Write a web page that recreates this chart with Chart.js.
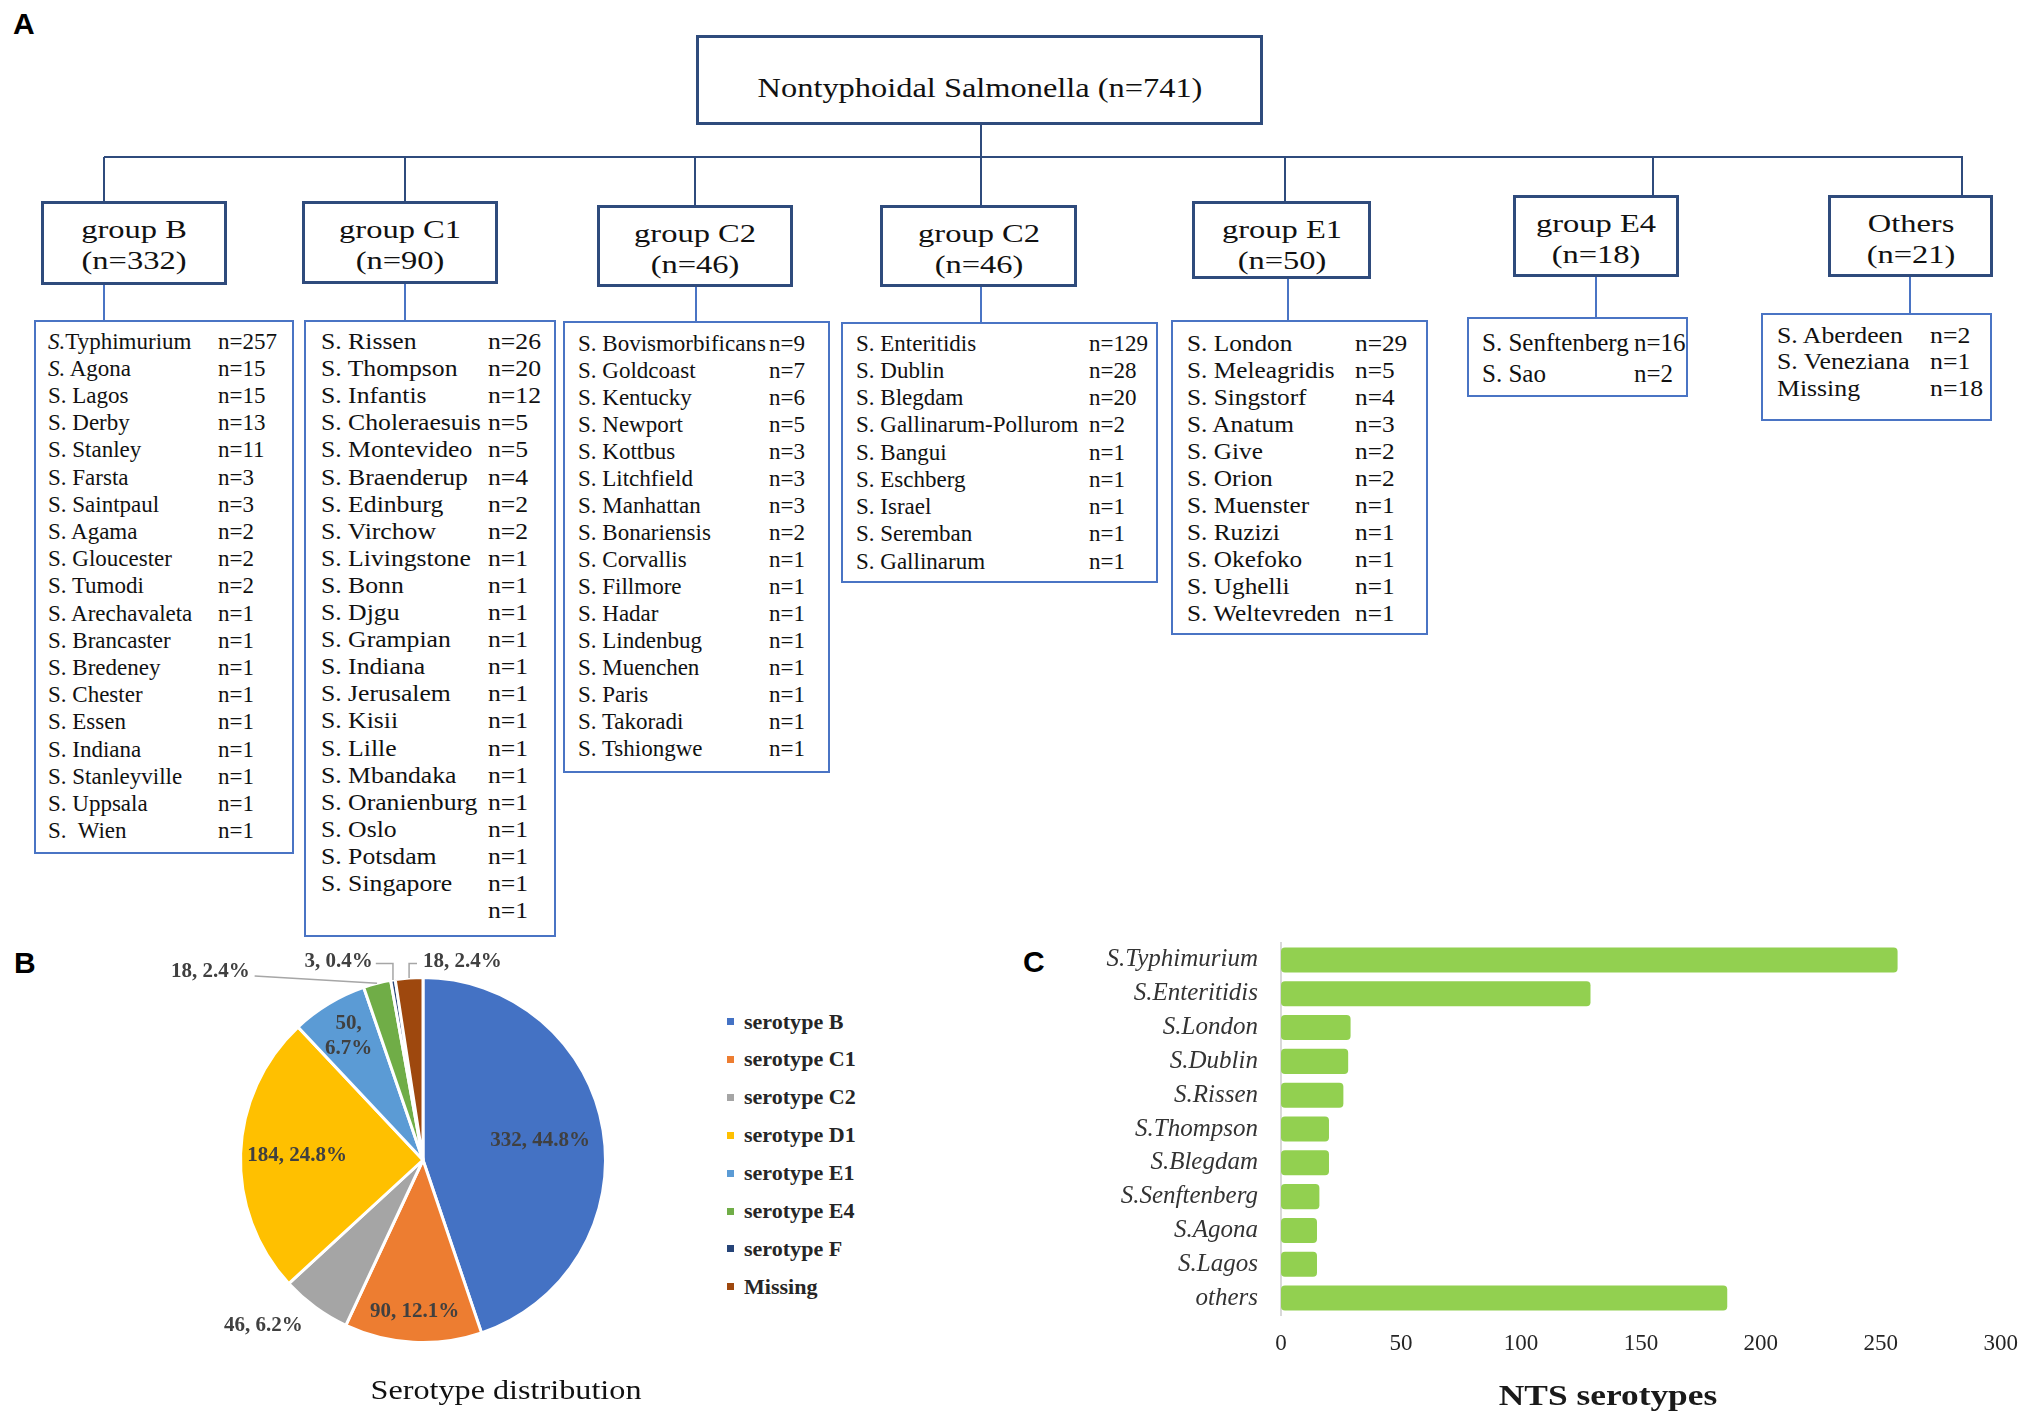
<!DOCTYPE html>
<html>
<head>
<meta charset="utf-8">
<script src="https://cdn.jsdelivr.net/npm/chart.js@4.4.1/dist/chart.umd.min.js"></script>
<style>
  html, body { margin: 0; padding: 0; background: #fff; }
  #page { position: relative; width: 2033px; height: 1417px; overflow: hidden;
          font-family: "Liberation Serif", "Times New Roman", serif; color: #111; }
  .t { position: absolute; white-space: pre; line-height: 1; }
  .box { position: absolute; box-sizing: border-box; background: #fff; }
  .ln { position: absolute; }
  .panel { position: absolute; font-family: "Liberation Sans", Arial, sans-serif;
           font-weight: bold; font-size: 30px; line-height: 1; color: #000; }
</style>
</head>
<body>
<div id="page">
  <div class="panel" style="left:13px;top:9px">A</div>
  <div class="panel" style="left:14px;top:948px">B</div>
  <div class="panel" style="left:1023px;top:947px">C</div>
  <div id="pieWrap" style="position:absolute;left:123px;top:940px;width:600px;height:440px"><canvas id="pie"></canvas></div>
  <div id="barWrap" style="position:absolute;left:1000px;top:920px;width:1033px;height:497px"><canvas id="bar"></canvas></div>
</div>
<script>
// ---- data ----
const rootLabel = 'Nontyphoidal Salmonella';
const rootCount = 741;

const groupNames = ['group B', 'group C1', 'group C2', 'group C2', 'group E1', 'group E4', 'Others'];
const groupCounts = [332, 90, 46, 46, 50, 18, 21];

const groupBNames = ['S.Typhimurium', 'S. Agona', 'S. Lagos', 'S. Derby', 'S. Stanley', 'S. Farsta', 'S. Saintpaul',
  'S. Agama', 'S. Gloucester', 'S. Tumodi', 'S. Arechavaleta', 'S. Brancaster', 'S. Bredeney', 'S. Chester',
  'S. Essen', 'S. Indiana', 'S. Stanleyville', 'S. Uppsala', 'S.  Wien'];
const groupBCounts = [257, 15, 15, 13, 11, 3, 3, 2, 2, 2, 1, 1, 1, 1, 1, 1, 1, 1, 1];

const groupC1Names = ['S. Rissen', 'S. Thompson', 'S. Infantis', 'S. Choleraesuis', 'S. Montevideo', 'S. Braenderup',
  'S. Edinburg', 'S. Virchow', 'S. Livingstone', 'S. Bonn', 'S. Djgu', 'S. Grampian', 'S. Indiana', 'S. Jerusalem',
  'S. Kisii', 'S. Lille', 'S. Mbandaka', 'S. Oranienburg', 'S. Oslo', 'S. Potsdam', 'S. Singapore', ''];
const groupC1Counts = [26, 20, 12, 5, 5, 4, 2, 2, 1, 1, 1, 1, 1, 1, 1, 1, 1, 1, 1, 1, 1, 1];

const groupC2Names = ['S. Bovismorbificans', 'S. Goldcoast', 'S. Kentucky', 'S. Newport', 'S. Kottbus', 'S. Litchfield',
  'S. Manhattan', 'S. Bonariensis', 'S. Corvallis', 'S. Fillmore', 'S. Hadar', 'S. Lindenbug', 'S. Muenchen',
  'S. Paris', 'S. Takoradi', 'S. Tshiongwe'];
const groupC2Counts = [9, 7, 6, 5, 3, 3, 3, 2, 1, 1, 1, 1, 1, 1, 1, 1];

const groupD1Names = ['S. Enteritidis', 'S. Dublin', 'S. Blegdam', 'S. Gallinarum-Pollurom', 'S. Bangui', 'S. Eschberg',
  'S. Israel', 'S. Seremban', 'S. Gallinarum'];
const groupD1Counts = [129, 28, 20, 2, 1, 1, 1, 1, 1];

const groupE1Names = ['S. London', 'S. Meleagridis', 'S. Singstorf', 'S. Anatum', 'S. Give', 'S. Orion', 'S. Muenster',
  'S. Ruzizi', 'S. Okefoko', 'S. Ughelli', 'S. Weltevreden'];
const groupE1Counts = [29, 5, 4, 3, 2, 2, 1, 1, 1, 1, 1];

const groupE4Names = ['S. Senftenberg', 'S. Sao'];
const groupE4Counts = [16, 2];

const othersNames = ['S. Aberdeen', 'S. Veneziana', 'Missing'];
const othersCounts = [2, 1, 18];

const serotypeNames = ['serotype B', 'serotype C1', 'serotype C2', 'serotype D1', 'serotype E1', 'serotype E4', 'serotype F', 'Missing'];
const serotypeCounts = [332, 90, 46, 184, 50, 18, 3, 18];
const serotypeColors = ['#4472C4', '#ED7D31', '#A5A5A5', '#FFC000', '#5B9BD5', '#70AD47', '#264478', '#9E480E'];

const topSerotypes = ['S.Typhimurium', 'S.Enteritidis', 'S.London', 'S.Dublin', 'S.Rissen', 'S.Thompson',
  'S.Blegdam', 'S.Senftenberg', 'S.Agona', 'S.Lagos', 'others'];
const topCounts = [257, 129, 29, 28, 26, 20, 20, 16, 15, 15, 186];
const countTicks = [0, 50, 100, 150, 200, 250, 300];

// ---- tree layout ----
const page = document.getElementById('page');
const SERIF = '"Liberation Serif", "Times New Roman", serif';

function addText(html, x, y, o) {
  const s = document.createElement('div');
  s.className = 't';
  s.innerHTML = html;
  s.style.fontSize = o.size + 'px';
  if (o.bold) s.style.fontWeight = 'bold';
  if (o.color) s.style.color = o.color;
  s.style.top = (y - o.size / 2) + 'px';
  s.style.left = x + 'px';
  const sx = o.sx || 1;
  if (o.align === 'center') {
    s.style.transformOrigin = '50% 50%';
    s.style.transform = 'translateX(-50%) scaleX(' + sx + ')';
  } else {
    s.style.transformOrigin = '0 50%';
    s.style.transform = 'scaleX(' + sx + ')';
  }
  page.appendChild(s);
}

function addBox(b, color, w) {
  const d = document.createElement('div');
  d.className = 'box';
  d.style.left = b[0] + 'px';
  d.style.top = b[1] + 'px';
  d.style.width = (b[2] - b[0]) + 'px';
  d.style.height = (b[3] - b[1]) + 'px';
  d.style.border = w + 'px solid ' + color;
  page.appendChild(d);
}

function addLine(x1, y1, x2, y2, color, w) {
  const d = document.createElement('div');
  d.className = 'ln';
  d.style.background = color;
  if (x1 === x2) {
    d.style.left = (x1 - w / 2) + 'px';
    d.style.top = y1 + 'px';
    d.style.width = w + 'px';
    d.style.height = (y2 - y1) + 'px';
  } else {
    d.style.left = x1 + 'px';
    d.style.top = (y1 - w / 2) + 'px';
    d.style.width = (x2 - x1) + 'px';
    d.style.height = w + 'px';
  }
  page.appendChild(d);
}

const NAVY = '#2F4B7C';
const BLUE = '#4A74C4';

const rootBox = [696, 35, 1263, 125];
const busY = 157;
const upperStemX = [104, 405, 695, 981, 1285, 1653, 1962];
const groupBoxes = [[41, 201, 227, 285], [302, 201, 498, 284], [597, 205, 793, 287], [880, 205, 1077, 287],
  [1192, 201, 1371, 279], [1513, 195, 1679, 277], [1828, 195, 1993, 277]];
const lowerStemX = [104, 405, 696, 981, 1288, 1596, 1910];

const lists = [
  [groupBNames, groupBCounts], [groupC1Names, groupC1Counts], [groupC2Names, groupC2Counts],
  [groupD1Names, groupD1Counts], [groupE1Names, groupE1Counts], [groupE4Names, groupE4Counts],
  [othersNames, othersCounts]
];
const listLayout = [
  { box: [34, 320, 294, 854],    tx: 48,   nx: 218,  y0: 341, dy: 27.2,  size: 23, sx: 1.0, italicRows: 2 },
  { box: [304, 320, 556, 937],   tx: 321,  nx: 488,  y0: 341, dy: 27.1,  size: 24, sx: 1.07 },
  { box: [563, 321, 830, 773],   tx: 578,  nx: 769,  y0: 343, dy: 27,    size: 23, sx: 1.0 },
  { box: [841, 322, 1158, 583],  tx: 856,  nx: 1089, y0: 343, dy: 27.25, size: 23, sx: 1.0 },
  { box: [1171, 320, 1428, 635], tx: 1187, nx: 1355, y0: 343, dy: 27,    size: 23, sx: 1.1 },
  { box: [1467, 317, 1688, 397], tx: 1482, nx: 1634, y0: 342, dy: 31,    size: 25, sx: 1.0 },
  { box: [1761, 313, 1992, 421], tx: 1777, nx: 1930, y0: 335, dy: 26.5,  size: 23, sx: 1.12 }
];

// connectors first so boxes sit on top
addLine(104, busY, 1963, busY, NAVY, 2);
addLine(981, rootBox[3], 981, groupBoxes[3][1], NAVY, 2);
upperStemX.forEach((x, i) => addLine(x, busY, x, groupBoxes[i][1], NAVY, 2));
lowerStemX.forEach((x, i) => addLine(x, groupBoxes[i][3], x, listLayout[i].box[1], BLUE, 2));

addBox(rootBox, NAVY, 3);
addText(rootLabel + ' (n=' + rootCount + ')', (rootBox[0] + rootBox[2]) / 2, 88,
  { size: 27, sx: 1.2, align: 'center' });

groupBoxes.forEach((b, i) => {
  addBox(b, NAVY, 3);
  const cx = (b[0] + b[2]) / 2;
  addText(groupNames[i], cx, b[1] + 29, { size: 26, sx: 1.25, align: 'center' });
  addText('(n=' + groupCounts[i] + ')', cx, b[1] + 60, { size: 26, sx: 1.25, align: 'center' });
});

lists.forEach(([names, counts], i) => {
  const L = listLayout[i];
  addBox(L.box, BLUE, 2);
  names.forEach((name, r) => {
    const y = L.y0 + r * L.dy;
    let html = name;
    if (L.italicRows && r < L.italicRows) html = '<i>S.</i>' + name.slice(2);
    if (name) addText(html, L.tx, y, { size: L.size, sx: L.sx });
    addText('n=' + counts[r], L.nx, y, { size: L.size, sx: L.sx });
  });
});

// ---- pie legend and captions ----
const legendX = 727, legendY0 = 1022, legendStep = 37.9;
serotypeNames.forEach((name, i) => {
  const y = legendY0 + i * legendStep;
  const sq = document.createElement('div');
  sq.style.cssText = 'position:absolute;width:7px;height:7px;left:' + legendX + 'px;top:' + (y - 4) + 'px;background:' + serotypeColors[i];
  page.appendChild(sq);
  addText(name, legendX + 17, y, { size: 21, bold: true, color: '#262626', sx: 1.05 });
});
addText('Serotype distribution', 506, 1390, { size: 28, sx: 1.15, align: 'center' });
addText('NTS serotypes', 1608, 1395, { size: 29, bold: true, sx: 1.22, align: 'center', color: '#1a1a1a' });

// ---- pie chart ----
const total = serotypeCounts.reduce((a, b) => a + b, 0);
// label placement: r = fraction of radius along the slice's mid angle,
// otherwise a callout at (dx, dy) radii from centre with a leader line
const pieLabelLayout = [
  { r: 0.65 },
  { r: 0.83 },
  { dx: -0.874, dy: 0.907, align: 'center' },
  { r: 0.69 },
  { r: 0.79, split: true },
  { dx: -0.95, dy: -1.03, align: 'right', leader: 'straight' },
  { dx: -0.275, dy: -1.088, align: 'right', leader: 'elbow' },
  { dx: 0.0, dy: -1.088, align: 'left', leader: 'elbow' }
];

const pieLabels = {
  id: 'pieLabels',
  afterDatasetsDraw(chart) {
    const ctx = chart.ctx;
    const arcs = chart.getDatasetMeta(0).data;
    ctx.save();
    ctx.font = 'bold 21px ' + SERIF;
    ctx.fillStyle = '#404040';
    ctx.textBaseline = 'middle';
    arcs.forEach((arc, i) => {
      const p = arc.getProps(['x', 'y', 'startAngle', 'endAngle', 'outerRadius'], true);
      const mid = (p.startAngle + p.endAngle) / 2;
      const v = serotypeCounts[i];
      const pct = (v / total * 100).toFixed(1) + '%';
      const lay = pieLabelLayout[i];
      if (lay.r) {
        const lx = p.x + Math.cos(mid) * p.outerRadius * lay.r;
        const ly = p.y + Math.sin(mid) * p.outerRadius * lay.r;
        ctx.textAlign = 'center';
        if (lay.split) {
          ctx.fillText(v + ',', lx, ly - 12.5);
          ctx.fillText(pct, lx, ly + 12.5);
        } else {
          ctx.fillText(v + ', ' + pct, lx, ly);
        }
        return;
      }
      const lx = p.x + lay.dx * p.outerRadius;
      const ly = p.y + lay.dy * p.outerRadius;
      const text = v + ', ' + pct;
      ctx.textAlign = lay.align;
      ctx.fillText(text, lx, ly);
      if (!lay.leader) return;
      const ex = p.x + Math.cos(mid) * p.outerRadius;
      const ey = p.y + Math.sin(mid) * p.outerRadius;
      ctx.strokeStyle = '#a6a6a6';
      ctx.lineWidth = 1.5;
      ctx.beginPath();
      if (lay.leader === 'straight') {
        ctx.moveTo(lx + 5, ly + 4);
        ctx.lineTo(ex, ey);
      } else {
        const sx = lay.align === 'right' ? lx + 3 : lx - 6;
        ctx.moveTo(sx, ly + 2);
        ctx.lineTo(ex, ly + 2);
        ctx.lineTo(ex, ey);
      }
      ctx.stroke();
    });
    ctx.restore();
  }
};

new Chart(document.getElementById('pie'), {
  type: 'pie',
  data: {
    labels: serotypeNames,
    datasets: [{
      data: serotypeCounts,
      backgroundColor: serotypeColors,
      borderColor: '#ffffff',
      borderWidth: 3
    }]
  },
  options: {
    responsive: true,
    maintainAspectRatio: false,
    animation: false,
    layout: { padding: { top: 36, bottom: 36 } },
    plugins: { legend: { display: false }, tooltip: { enabled: false } }
  },
  plugins: [pieLabels]
});

// ---- bar chart ----
new Chart(document.getElementById('bar'), {
  type: 'bar',
  data: {
    labels: topSerotypes,
    datasets: [{
      data: topCounts,
      backgroundColor: '#92D050',
      borderRadius: 4,
      borderSkipped: false,
      barPercentage: 0.74,
      categoryPercentage: 1
    }]
  },
  options: {
    indexAxis: 'y',
    responsive: true,
    maintainAspectRatio: false,
    animation: false,
    layout: { padding: { top: 23, right: 28, bottom: 0, left: 0 } },
    plugins: { legend: { display: false }, tooltip: { enabled: false } },
    scales: {
      x: {
        min: 0,
        max: 300,
        afterBuildTicks: axis => { axis.ticks = countTicks.map(v => ({ value: v })); },
        ticks: { padding: 15, color: '#262626', font: { family: SERIF, size: 23 } },
        grid: { display: false, drawTicks: false },
        border: { display: false },
        afterFit: s => { s.height = 102; }
      },
      y: {
        ticks: { padding: 3, autoSkip: false, color: '#333', font: { family: SERIF, size: 25, style: 'italic' } },
        grid: { display: false, drawTicks: true, tickLength: 20 },
        border: { display: true, color: '#d9d9d9', width: 2 },
        afterFit: s => { s.width = 281; }
      }
    }
  }
});
</script>
</body>
</html>
